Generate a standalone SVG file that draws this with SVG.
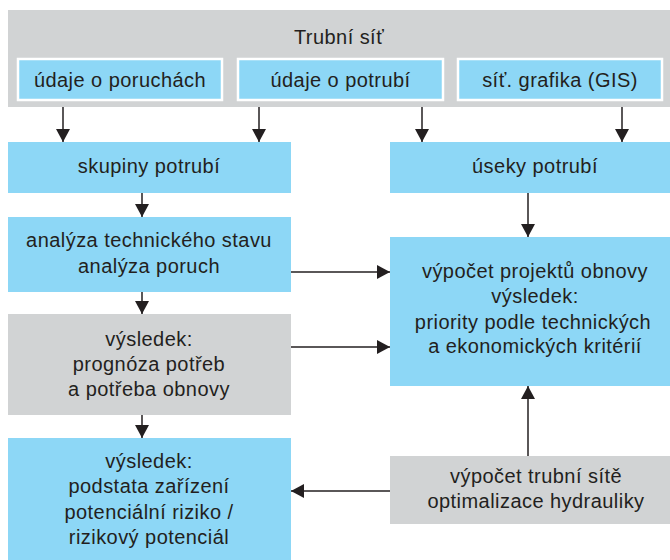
<svg xmlns="http://www.w3.org/2000/svg" width="670" height="560" viewBox="0 0 670 560">
<defs>
<style>
.c{fill:#8DD7F6}
.g{fill:#D1D3D4}
.w{stroke:#FFFFFF;stroke-width:2.5}
text{font-family:"Liberation Sans",Arial,sans-serif;font-size:20px;fill:#231F20;text-anchor:middle;letter-spacing:0.45px}
.l{stroke:#231F20;stroke-width:1.5;fill:none;marker-end:url(#a)}
</style>
<marker id="a" markerUnits="userSpaceOnUse" markerWidth="13" markerHeight="14" refX="13" refY="7" orient="auto">
<path d="M0,0 L13,7 L0,14 Z" fill="#231F20"/>
</marker>
</defs>
<rect width="670" height="560" fill="#FFFFFF"/>
<g id="trubni-sit">
<rect class="g" x="8" y="10" width="662" height="97"/>
<text x="339" y="44">Trubní síť</text>
</g>
<g id="udaje-poruchy">
<rect class="c w" x="18" y="59" width="204" height="41"/>
<text x="120" y="87">údaje o poruchách</text>
</g>
<g id="udaje-potrubi">
<rect class="c w" x="238" y="59" width="205" height="41"/>
<text x="340.5" y="87">údaje o potrubí</text>
</g>
<g id="gis">
<rect class="c w" x="458" y="59" width="204" height="41"/>
<text x="560" y="87">síť. grafika (GIS)</text>
</g>
<g id="skupiny">
<rect class="c" x="8" y="142" width="283" height="51"/>
<text x="149" y="173">skupiny potrubí</text>
</g>
<g id="analyza">
<rect class="c" x="8" y="217" width="283" height="75"/>
<text x="149" y="247">analýza technického stavu</text>
<text x="149" y="273">analýza poruch</text>
</g>
<g id="prognoza">
<rect class="g" x="8" y="314" width="283" height="101"/>
<text x="149" y="346">výsledek:</text>
<text x="149" y="371">prognóza potřeb</text>
<text x="149" y="396">a potřeba obnovy</text>
</g>
<g id="podstata">
<rect class="c" x="8" y="438" width="283" height="122"/>
<text x="149" y="468">výsledek:</text>
<text x="149" y="493">podstata zařízení</text>
<text x="149" y="519">potenciální riziko /</text>
<text x="149" y="544">rizikový potenciál</text>
</g>
<g id="useky">
<rect class="c" x="390" y="142" width="280" height="51"/>
<text x="535" y="173">úseky potrubí</text>
</g>
<g id="vypocet-projektu">
<rect class="c" x="390" y="237" width="280" height="149"/>
<text x="535" y="278">výpočet projektů obnovy</text>
<text x="535" y="303">výsledek:</text>
<text x="533" y="329">priority podle technických</text>
<text x="535" y="353">a ekonomických kritérií</text>
</g>
<g id="vypocet-site">
<rect class="g" x="390" y="456" width="280" height="68"/>
<text x="536" y="483">výpočet trubní sítě</text>
<text x="536" y="508">optimalizace hydrauliky</text>
</g>
<g id="connectors">
<path class="l" d="M63,107 V142"/>
<path class="l" d="M259,107 V142"/>
<path class="l" d="M422,107 V142"/>
<path class="l" d="M622,107 V142"/>
<path class="l" d="M142,193 V217"/>
<path class="l" d="M142,292 V314"/>
<path class="l" d="M142,415 V438"/>
<path class="l" d="M528,193 V237"/>
<path class="l" d="M291,272 H390"/>
<path class="l" d="M291,347 H390"/>
<path class="l" d="M528,456 V386"/>
<path class="l" d="M390,491 H291"/>
</g>
</svg>
